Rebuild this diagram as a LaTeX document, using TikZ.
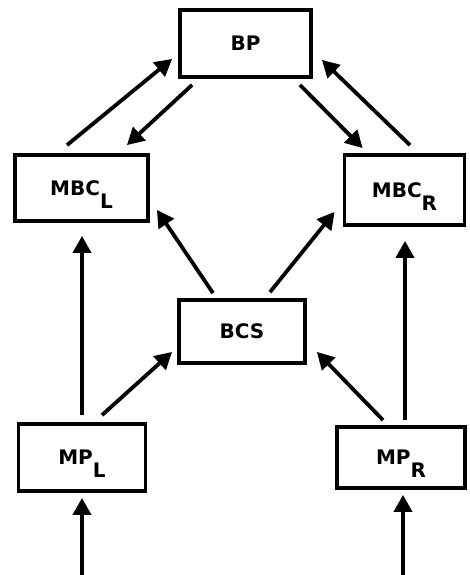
\documentclass[tikz,border=0pt]{standalone}
\usepackage{fontspec}
\setmainfont{DejaVu Sans}
\usetikzlibrary{arrows.meta}
\newcommand\sbs[1]{\raisebox{-13pt}[0pt][0pt]{#1}}
\begin{document}
\begin{tikzpicture}[x=1pt,y=-1pt,
  blk/.style={draw, line width=3.8pt, inner sep=0pt, font=\bfseries\fontsize{20}{23}\selectfont},
  arr/.style={line width=3.8pt, -{Triangle[length=17pt,width=18pt]}}]
\useasboundingbox[fill=white] (0,0) rectangle (469,575);
\node[blk, minimum width=131pt, minimum height=67pt] (BP) at (245.5,43.5) {BP};
\node[blk, minimum width=133pt, minimum height=66pt] (MBCL) at (81.5,188) {MBC\sbs{L}};
\node[blk, minimum width=120pt, minimum height=70pt] (MBCR) at (404.5,190) {MBC\sbs{R}};
\node[blk, minimum width=126pt, minimum height=63pt] (BCS) at (242,331.5) {BCS};
\node[blk, minimum width=127pt, minimum height=67pt] (MPL) at (82,457.5) {MP\sbs{L}};
\node[blk, minimum width=128pt, minimum height=61pt] (MPR) at (401,457.5) {MP\sbs{R}};
\coordinate (inL) at (82,575);
\coordinate (inR) at (403,575);
% top ring
\draw[arr] ([xshift=-14.5pt,yshift=8pt]MBCL.north) -- ([xshift=-6pt,yshift=20pt]BP.south west);
\draw[arr] ([xshift=14pt,yshift=-6pt]BP.south west) -- ([xshift=-23pt,yshift=8pt]MBCL.north east);
\draw[arr] ([xshift=-13pt,yshift=-6pt]BP.south east) -- ([xshift=20pt,yshift=5pt]MBCR.north west);
\draw[arr] ([xshift=5.5pt,yshift=8pt]MBCR.north) -- ([xshift=9pt,yshift=19pt]BP.south east);
% BCS up
\draw[arr] ([xshift=-29pt,yshift=5pt]BCS.north) -- ([xshift=7pt,yshift=13pt]MBCL.south east);
\draw[arr] ([xshift=28pt,yshift=6pt]BCS.north) -- ([xshift=-8pt,yshift=15pt]MBCR.south west);
% MP up
\draw[arr] ([yshift=7pt]MPL.north) -- ([xshift=0.5pt,yshift=-13pt]MBCL.south);
\draw[arr] ([xshift=20pt,yshift=7pt]MPL.north) -- ([xshift=-5pt,yshift=13pt]BCS.south west);
\draw[arr] ([xshift=-18pt,yshift=5pt]MPR.north) -- ([xshift=10pt,yshift=13pt]BCS.south east);
\draw[arr] ([xshift=4pt,yshift=5pt]MPR.north) -- ([xshift=0.5pt,yshift=-14pt]MBCR.south);
% inputs
\draw[arr] (inL) -- ([yshift=-5pt]MPL.south);
\draw[arr] (inR) -- ([xshift=2pt,yshift=-5pt]MPR.south);
\end{tikzpicture}
\end{document}
